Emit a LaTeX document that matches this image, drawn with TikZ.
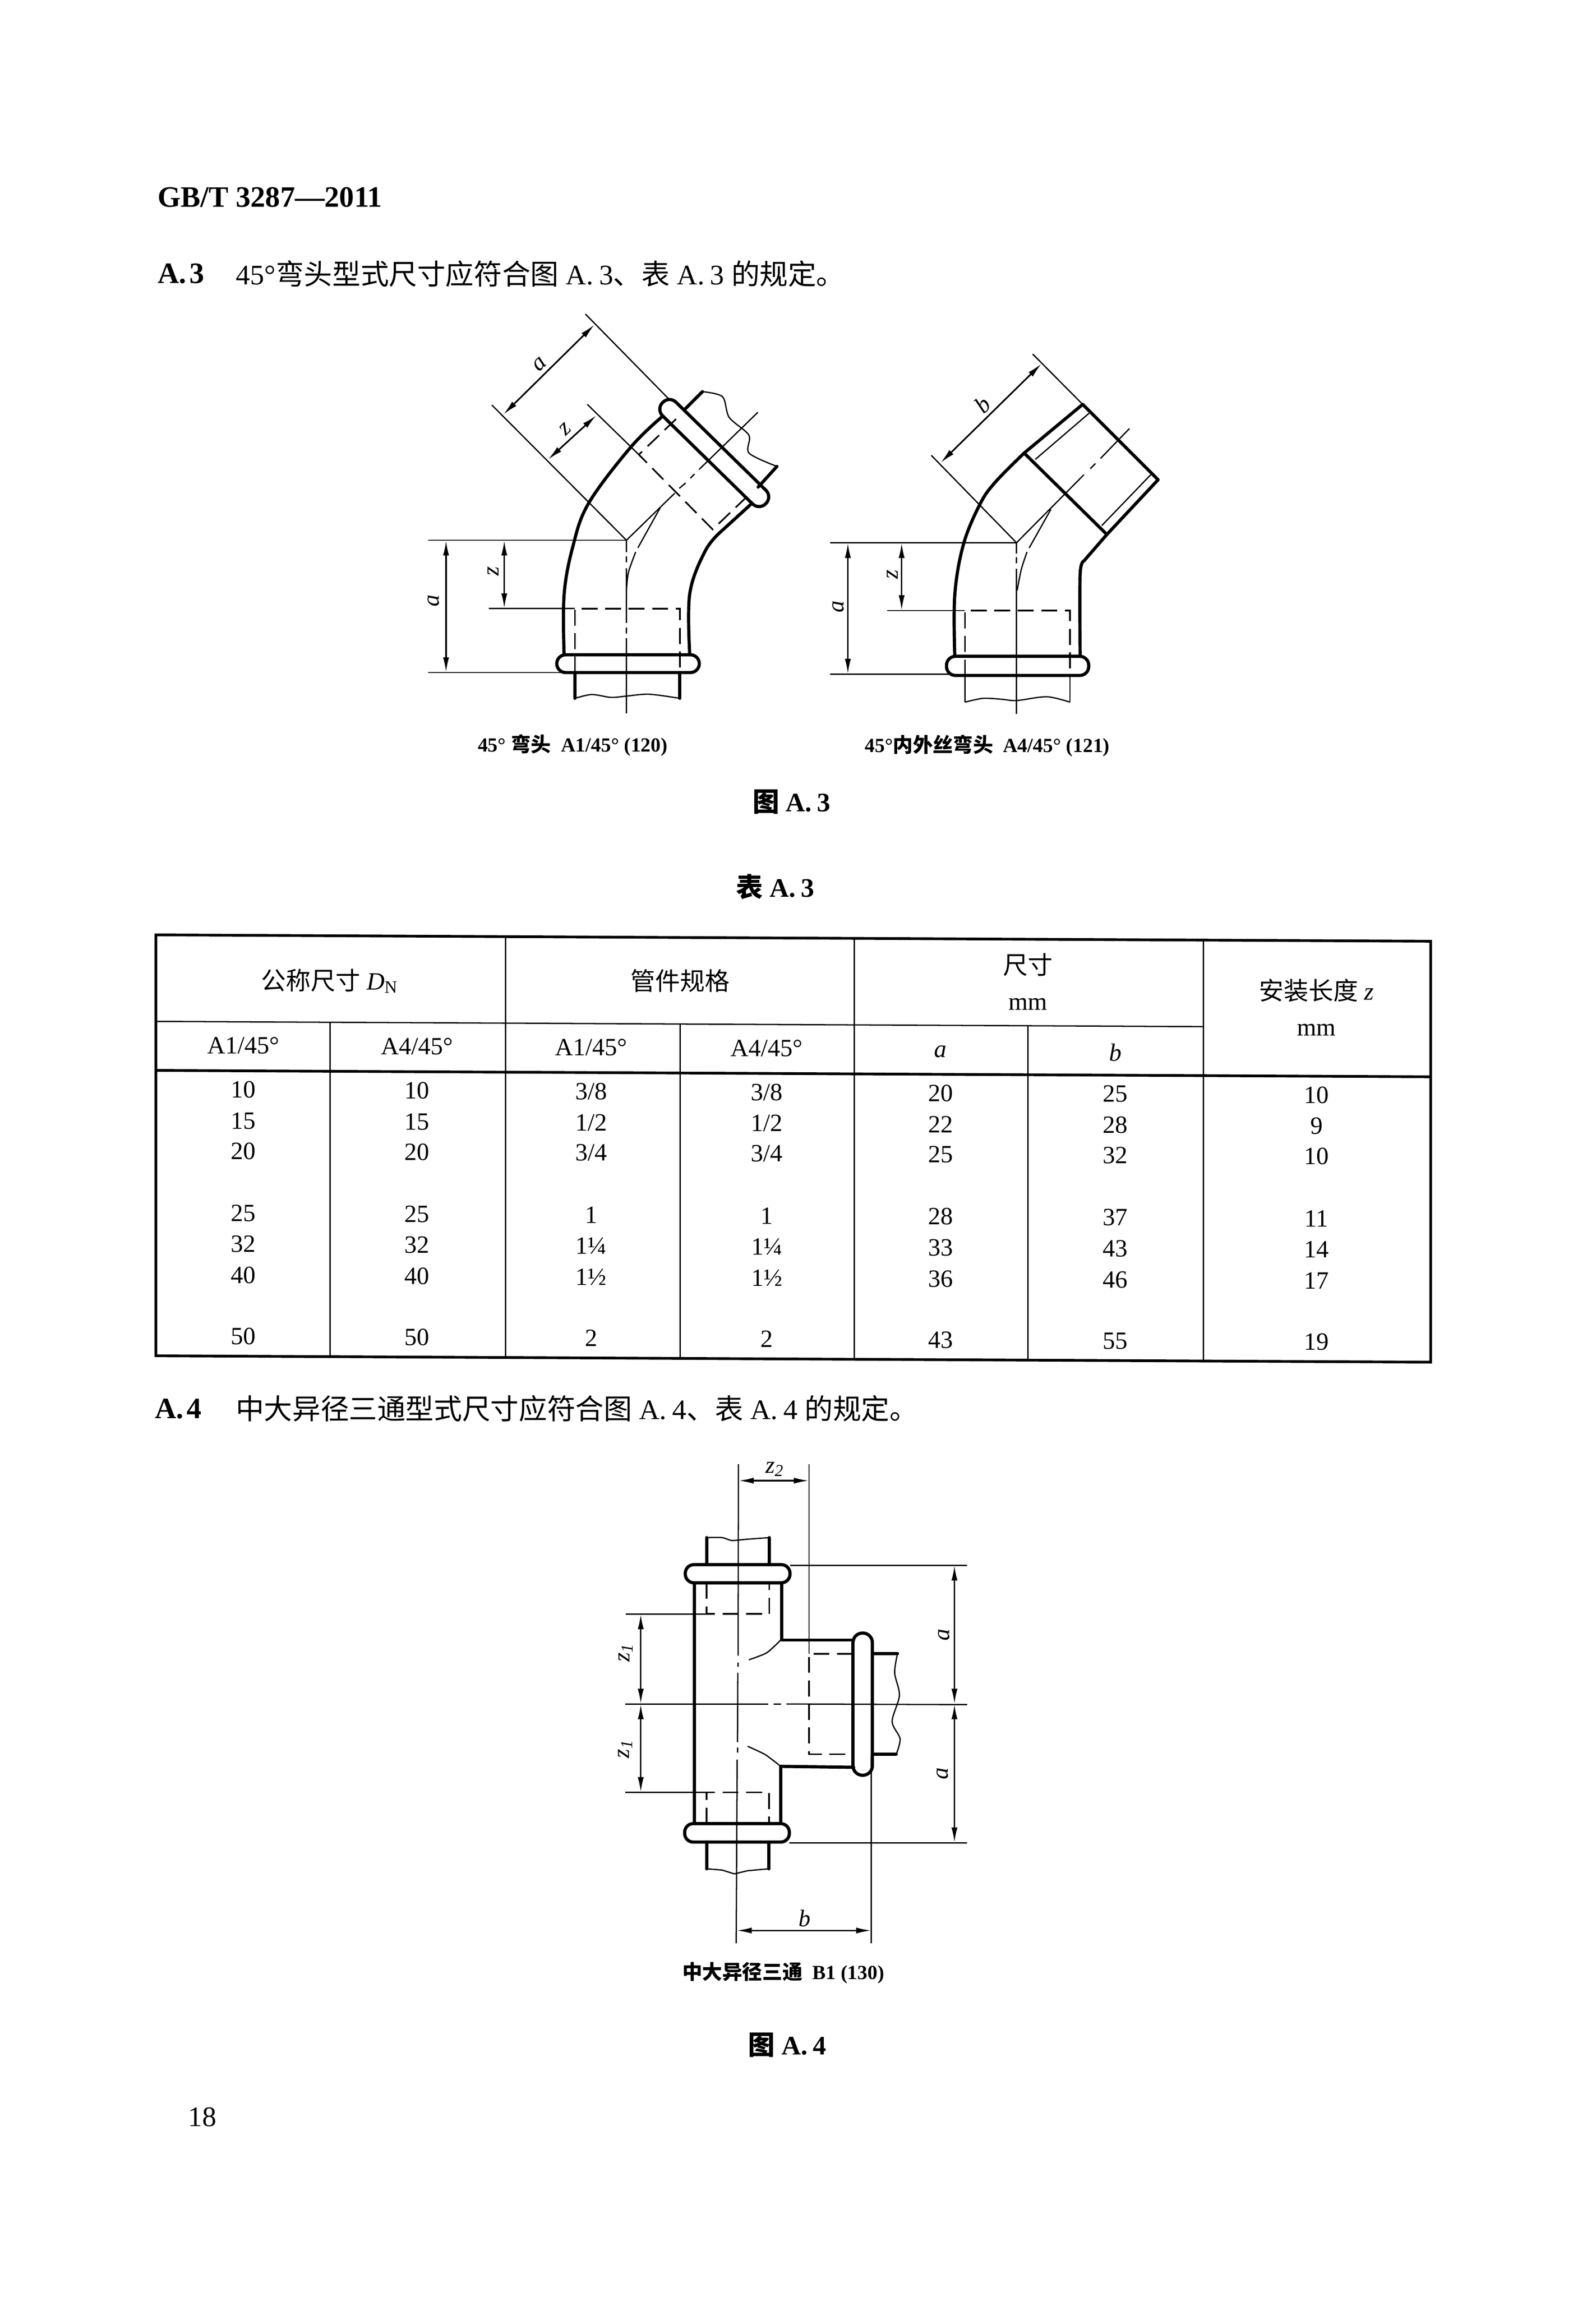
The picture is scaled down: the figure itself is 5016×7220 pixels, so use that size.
\documentclass[tikz,border=0pt]{standalone}
\usepackage{fontspec}
\setmainfont{Liberation Serif}
\newfontfamily\zh{Noto Sans CJK SC}
\usetikzlibrary{arrows.meta}
\tikzset{
  wall/.style={line width=1pt,line cap=round,line join=round},
  thinline/.style={line width=0.4pt},
  hidden/.style={line width=0.5pt,dash pattern=on 5pt off 2.4pt},
  dimline/.style={line width=0.5pt,{Latex[length=4.8pt,width=1.9pt]}-{Latex[length=4.8pt,width=1.9pt]}},
  dimlabel/.style={font=\fontsize{7.5}{8}\selectfont\itshape,inner sep=0pt},
  bodytext/.style={font=\fontsize{8.9}{10}\selectfont,inner sep=0pt},
  headtext/.style={font=\fontsize{9.3}{10}\selectfont\bfseries,inner sep=0pt},
  figtext/.style={font=\fontsize{8.4}{10}\selectfont\bfseries,inner sep=0pt},
  captext/.style={font=\fontsize{6.3}{8}\selectfont\bfseries,inner sep=0pt},
  tabletext/.style={font=\fontsize{7.8}{9}\selectfont,inner sep=0pt},
}
\begin{document}
\begin{tikzpicture}[x=0.1pt,y=-0.1pt]
  \useasboundingbox[fill=white] (0,0) rectangle (5016,7220);
  % page text
  \node[headtext,anchor=west] (pagehead) at (494,620) {GB/T 3287—2011};
  \node[headtext,anchor=west] (secA) at (494,860) {A.\hspace{0.1em}3};
  \node[bodytext,anchor=west] (secAtext) at (740,860) {45°{\zh 弯头型式尺寸应符合图} A.\hspace{0.2em}3{\zh 、表} A.\hspace{0.2em}3 {\zh 的规定。}};
  \node[figtext] (figA) at (2488,2521) {{\zh 图} A.\hspace{0.2em}3};
  \node[figtext] (tabA) at (2437,2787) {{\zh 表} A.\hspace{0.2em}3};
  \node[headtext,anchor=west] (secB) at (485,4428) {A.\hspace{0.1em}4};
  \node[bodytext,anchor=west] (secBtext) at (739,4428) {{\zh 中大异径三通型式尺寸应符合图} A.\hspace{0.2em}4{\zh 、表} A.\hspace{0.2em}4 {\zh 的规定。}};
  \node[figtext] (figB) at (2474,6428) {{\zh 图} A.\hspace{0.2em}4};
  \node[bodytext,anchor=west] (pagenum) at (590,6654) {18};
  %
  % first elbow
  \draw[wall] plot[smooth,tension=0.6] coordinates {(1773,2058) (1773,1870) (1800,1720) (1850,1582) (1983,1405) (2083,1308)};
  \draw[wall] plot[smooth,tension=0.6] coordinates {(2168,2058) (2168,1866) (2217,1731) (2267,1670)} -- (2358,1587);
  \draw[wall,rounded corners=2.8pt] (1750,2058) rectangle (2198,2114);
  \draw[wall,rounded corners=2.9pt,rotate around={-44.4:(2245,1424)}] (2018,1394) rectangle (2472,1454);
  \draw[wall] (2150,1289) -- (2208,1231);
  \draw[thinline] plot[smooth,tension=0.5] coordinates {(2208,1231) (2271,1247) (2292,1312) (2354,1368) (2354,1424) (2442,1466)};
  \draw[wall] (2442,1466) -- (2383,1531);
  \draw[wall] (1807,2114) -- (1807,2195);
  \draw[wall] (2137,2114) -- (2137,2195);
  \draw[thinline] plot[smooth,tension=0.5] coordinates {(1807,2195) (1860,2183) (1920,2192) (1969,2188) (2040,2182) (2137,2195)};
  \draw[hidden] (1807,2114) -- (1807,1913) -- (2137,1913) -- (2137,2114);
  \draw[hidden] (2125,1317) -- (2008,1429) -- (2240,1664) -- (2350,1559);
  % first elbow, axis lines
  \foreach \ya/\yb in {1698/1735,1749/1768,1786/1958,1972/1991,2005/2242}
    \draw[thinline] (1969,\ya) -- (1969,\yb);
  \draw[thinline] (1969,1698) -- (2121,1550);
  \draw[thinline] (2135,1535) -- (2155,1518);
  \draw[thinline] (2170,1503) -- (2183,1490);
  \draw[thinline] (2197,1476) -- (2382,1296);
  \draw[thinline] plot[smooth] coordinates {(1969,1856) (1975,1800) (1998,1735)};
  \draw[thinline] (2005,1722) -- (2075,1596);
  % first elbow, dimensions
  \draw[thinline] (1346,1698) -- (1969,1698);
  \draw[thinline] (1346,2114) -- (1767,2114);
  \draw[thinline] (1537,1913) -- (1807,1913);
  \draw[thinline] (1546,1273) -- (1969,1698);
  \draw[thinline] (1840,987) -- (2104,1256);
  \draw[thinline] (1846,1271) -- (2008,1429);
  \draw[dimline] (1402,1698) -- (1402,2114);
  \draw[dimline] (1585,1698) -- (1585,1913);
  \draw[dimline] (1869,1020) -- (1582,1303);
  \draw[dimline] (1875,1305) -- (1722,1445);
  \node[dimlabel,rotate=90] (aa) at (1362,1888) {a};
  \node[dimlabel,rotate=90] (az) at (1550,1796) {z};
  \node[dimlabel,rotate=44] (ba) at (1696,1145) {a};
  \node[dimlabel,rotate=44] (bz) at (1777,1349) {z};
  \node[captext] (capA) at (1800,2342) {45° {\zh 弯头}\ \ A1/45° (120)};
  %
  % second elbow
  \draw[wall] plot[smooth,tension=0.6] coordinates {(3001,2063) (3001,1870) (3028,1712) (3079,1587) (3127,1517) (3219,1424)};
  \draw[wall] plot[smooth,tension=0.5] coordinates {(3395,2063) (3395,1805) (3407,1763)} -- (3479,1680);
  \draw[wall,rounded corners=2.8pt] (2975,2063) rectangle (3422,2123);
  \draw[wall] (3219,1424) -- (3403,1271) -- (3640,1508) -- (3479,1680) -- cycle;
  \draw[thinline] (3254,1444) -- (3423,1299);
  \draw[thinline] (3463,1652) -- (3620,1489);
  \draw[thinline] (3033,2123) -- (3033,2207);
  \draw[thinline] (3363,2123) -- (3363,2207);
  \draw[thinline] plot[smooth,tension=0.5] coordinates {(3033,2207) (3090,2195) (3150,2198) (3195,2202) (3290,2190) (3363,2207)};
  \draw[hidden] (3033,2123) -- (3033,1919) -- (3363,1919) -- (3363,2123);
  % second elbow, axis lines
  \foreach \ya/\yb in {1706/1740,1752/1770,1788/2244}
    \draw[thinline] (3195,\ya) -- (3195,\yb);
  \draw[thinline] (3195,1706) -- (3407,1492);
  \draw[thinline] (3427,1473) -- (3443,1457);
  \draw[thinline] (3459,1441) -- (3550,1347);
  \draw[thinline] plot[smooth] coordinates {(3197,1856) (3210,1790) (3228,1735)};
  \draw[thinline] (3235,1722) -- (3303,1601);
  % second elbow, dimensions
  \draw[thinline] (2610,1706) -- (3195,1706);
  \draw[thinline] (2609,2119) -- (2987,2119);
  \draw[thinline] (2789,1919) -- (3033,1919);
  \draw[thinline] (2927,1431) -- (3195,1706);
  \draw[thinline] (3246,1113) -- (3403,1271);
  \draw[dimline] (2665,1706) -- (2665,2119);
  \draw[dimline] (2834,1706) -- (2834,1919);
  \draw[dimline] (3274,1143) -- (2956,1455);
  \node[dimlabel,rotate=90] (ca) at (2634,1907) {a};
  \node[dimlabel,rotate=90] (cz) at (2805,1805) {z};
  \node[dimlabel,rotate=44] (db) at (3088,1271) {b};
  \node[captext] (capB) at (3103,2344) {45°{\zh 内外丝弯头}\ \ A4/45° (121)};
  %
  % table, the scan runs a little downhill
  \begin{scope}[yslant=-0.005]
    \draw[line width=0.85pt] (490,2936) rectangle (4497,4259);
    \draw[line width=0.85pt] (490,3362) -- (4497,3362);
    \draw[thinline] (490,3208) -- (3783,3208);
    \draw[thinline] (1589,2936) -- (1589,4259);
    \draw[thinline] (2685,2936) -- (2685,4259);
    \draw[thinline] (3783,2936) -- (3783,4259);
    \draw[thinline] (1037,3208) -- (1037,4259);
    \draw[thinline] (2138,3208) -- (2138,4259);
    \draw[thinline] (3231,3208) -- (3231,4259);
    \node[tabletext] (hdn) at (1037,3078) {{\zh 公称尺寸} \textit{D}\textsubscript{N}};
    \node[tabletext] (hspec) at (2138,3072) {\zh 管件规格};
    \node[tabletext] (hsize) at (3231,3016) {\zh 尺寸};
    \node[tabletext] (hsmm) at (3231,3140) {mm};
    \node[tabletext] (hz) at (4138,3092) {{\zh 安装长度} \textit{z}};
    \node[tabletext] (hzmm) at (4138,3216) {mm};
    \foreach \colx/\colname/\coltext in {765/sa/A1,1311/sb/A4,1858/sc/A1,2410/sd/A4}
      \node[tabletext] (\colname) at (\colx,3283) {\coltext/45°};
    \node[tabletext] (se) at (2956,3290) {\textit{a}};
    \node[tabletext] (sf) at (3506,3290) {\textit{b}};
    \foreach \rowy/\rowname/\va/\vb/\vc/\vd/\ve/\vf/\vg in {
      3421/ra/10/10/{3/8}/{3/8}/20/25/10,
      3519/rb/15/15/{1/2}/{1/2}/22/28/9,
      3614/rc/20/20/{3/4}/{3/4}/25/32/10,
      3809/rd/25/25/1/1/28/37/11,
      3907/re/32/32/1¼/1¼/33/43/14,
      4005/rf/40/40/1½/1½/36/46/17,
      4197/rg/50/50/2/2/43/55/19}{
      \node[tabletext] (\rowname a) at (765,\rowy) {\va};
      \node[tabletext] (\rowname b) at (1311,\rowy) {\vb};
      \node[tabletext] (\rowname c) at (1858,\rowy) {\vc};
      \node[tabletext] (\rowname d) at (2410,\rowy) {\vd};
      \node[tabletext] (\rowname e) at (2956,\rowy) {\ve};
      \node[tabletext] (\rowname f) at (3506,\rowy) {\vf};
      \node[tabletext] (\rowname g) at (4138,\rowy) {\vg};
    }
  \end{scope}
  %
  % tee
  \draw[wall] (2183,4975) -- (2183,5732);
  \draw[wall] (2457,4975) -- (2457,5155) -- (2683,5155);
  \draw[wall] (2454,5732) -- (2454,5552) -- (2683,5555);
  \draw[wall,rounded corners=2.7pt] (2154,4918) rectangle (2483,4975);
  \draw[wall,rounded corners=2.7pt] (2152,5732) rectangle (2481,5790);
  \draw[wall,rounded corners=3pt] (2681,5133) rectangle (2742,5580);
  \draw[wall] (2221,4918) -- (2221,4833);
  \draw[wall] (2418,4918) -- (2418,4833);
  \draw[thinline] plot[smooth,tension=0.4] coordinates {(2221,4833) (2270,4833) (2300,4842) (2350,4838) (2418,4833)};
  \draw[wall] (2221,5790) -- (2221,5874);
  \draw[wall] (2417,5790) -- (2417,5874);
  \draw[thinline] (2221,5874) -- (2270,5878) -- (2308,5890) -- (2350,5880) -- (2417,5874);
  \draw[hidden] (2221,4975) -- (2221,5073) -- (2418,5073) -- (2418,4975);
  \draw[hidden] (2221,5732) -- (2221,5634) -- (2417,5634) -- (2417,5732);
  \draw[wall] (2742,5198) -- (2821,5198);
  \draw[wall] (2742,5514) -- (2817,5514);
  \draw[thinline] plot[smooth,tension=0.5] coordinates {(2821,5198) (2812,5258) (2827,5329) (2804,5411) (2829,5465) (2817,5514)};
  \draw[hidden] (2681,5198) -- (2543,5198) -- (2543,5514) -- (2681,5514);
  \draw[thinline] plot[smooth,tension=0.4] coordinates {(2354,5217) (2410,5195) (2454,5155)};
  \draw[thinline] plot[smooth,tension=0.4] coordinates {(2350,5489) (2405,5515) (2454,5552)};
  % tee, axis lines
  \draw[thinline] (2321,4602) -- (2320,5204);
  \draw[thinline] (2320,5226) -- (2320,5239);
  \draw[thinline] (2319,5258) -- (2318,5476);
  \draw[thinline] (2318,5493) -- (2318,5509);
  \draw[thinline] (2317,5531) -- (2314,6108);
  \draw[thinline] (1965,5356) -- (2415,5356);
  \draw[thinline] (2432,5356) -- (2455,5356);
  \draw[thinline] (2472,5356) -- (3040,5358);
  % tee, dimensions
  \draw[thinline] (2543,4602) -- (2543,5198);
  \draw[thinline] (2739,5520) -- (2739,6108);
  \draw[thinline] (2483,4920) -- (3040,4920);
  \draw[thinline] (2481,5792) -- (3040,5792);
  \draw[thinline] (1967,5073) -- (2221,5073);
  \draw[thinline] (1965,5634) -- (2221,5634);
  \draw[dimline] (2321,4654) -- (2543,4654);
  \draw[dimline] (2315,6068) -- (2739,6068);
  \draw[dimline] (3000,4920) -- (3000,5356);
  \draw[dimline] (3000,5356) -- (3000,5792);
  \draw[dimline] (2014,5073) -- (2014,5356);
  \draw[dimline] (2014,5356) -- (2014,5634);
  \node[dimlabel] (tz) at (2436,4618) {z\textsubscript{2}};
  \node[dimlabel] (tb) at (2529,6030) {b};
  \node[dimlabel,rotate=90] (ta) at (2967,5138) {a};
  \node[dimlabel,rotate=90] (tc) at (2962,5574) {a};
  \node[dimlabel,rotate=90] (td) at (1967,5193) {z\textsubscript{1}};
  \node[dimlabel,rotate=90] (te) at (1965,5496) {z\textsubscript{1}};
  \node[captext] (capC) at (2462,6201) {{\zh 中大异径三通}\ \ B1 (130)};
\end{tikzpicture}
\end{document}
